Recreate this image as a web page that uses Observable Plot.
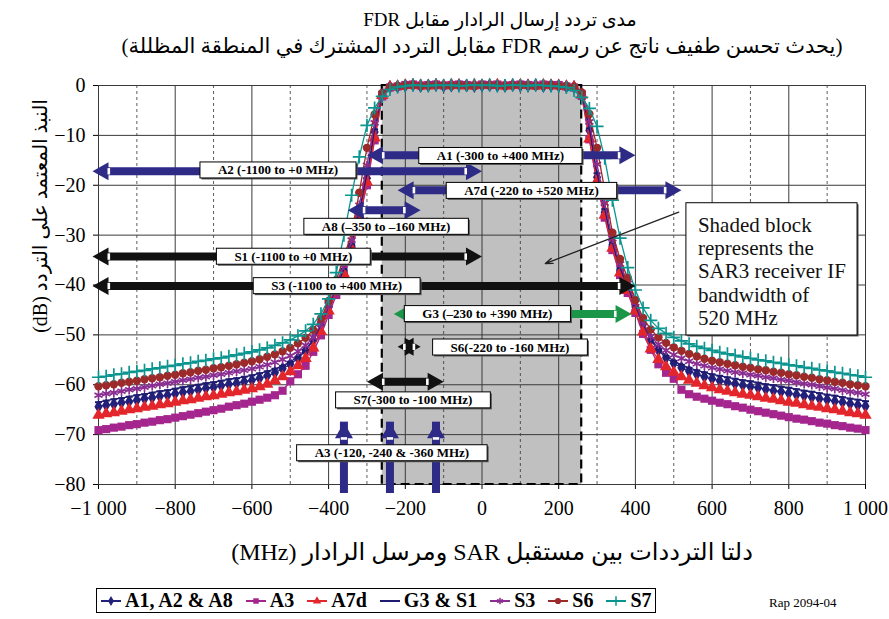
<!DOCTYPE html>
<html lang="ar">
<head>
<meta charset="utf-8">
<title>FDR</title>
<script src="https://cdn.jsdelivr.net/npm/d3@7"></script>
<script src="https://cdn.jsdelivr.net/npm/@observablehq/plot@0.6"></script>
<style>
  html, body { margin: 0; padding: 0; background: #fff; }
  #figure { position: relative; width: 889px; height: 619px; overflow: hidden;
            font-family: "Liberation Serif", "DejaVu Sans", serif; color: #000; }
  .line { position: absolute; white-space: nowrap; transform: translate(-50%, -50%); direction: rtl; }
  #title1 { left: 500px; top: 19px; font-size: 19px; }
  #title2 { left: 482px; top: 46px; font-size: 21px; }
  #chart { position: absolute; left: 0; top: 65px; }
  #ylabel { position: absolute; left: 40px; top: 216px; white-space: nowrap; font-size: 20px;
            transform: translate(-50%, -50%) rotate(-90deg); direction: rtl; }
  #xlabel { left: 492px; top: 552px; font-size: 24px; }
  #legend { position: absolute; left: 96px; top: 588px; width: 560px; height: 25px; box-sizing: border-box;
            border: 1px solid #000; display: flex; align-items: center; padding-left: 3px; gap: 12px;
            font-weight: bold; font-size: 20px; direction: ltr; }
  #legend .item { display: flex; align-items: center; gap: 3px; white-space: nowrap; }
  #ref { position: absolute; left: 769px; top: 595px; font-size: 13px; direction: ltr; }
</style>
</head>
<body>
<div id="figure">
  <div id="title1" class="line" dir="rtl"></div>
  <div id="title2" class="line" dir="rtl"></div>
  <div id="chart"></div>
  <div id="ylabel" dir="rtl"></div>
  <div id="xlabel" class="line" dir="rtl"></div>
  <div id="legend"></div>
  <div id="ref">Rap 2094-04</div>
</div>
<script>
// ---- texts ----
const titleLine1 = "مدى تردد إرسال الرادار مقابل FDR";
const titleLine2 = "(يحدث تحسن طفيف ناتج عن رسم FDR مقابل التردد المشترك في المنطقة المظللة)";
const yTitle = "النبذ المعتمد على التردد (dB)";
const xTitle = "دلتا الترددات بين مستقبل SAR ومرسل الرادار (MHz)";
const noteText = "Shaded block\nrepresents the\nSAR3 receiver IF\nbandwidth of\n520 MHz";

// ---- axes ----
const xTicks = [-1000, -800, -600, -400, -200, 0, 200, 400, 600, 800, 1000];
const xMinorTicks = [-900, -700, -500, -300, -100, 100, 300, 500, 700, 900];
const yTicks = [0, -10, -20, -30, -40, -50, -60, -70, -80];

// ---- FDR curves: frequency offset (MHz) and response (dB) ----
const freqMHz = [
  -1000, -980, -960, -940, -920, -900, -880, -860, -840, -820,
  -800, -780, -760, -740, -720, -700, -680, -660, -640, -620,
  -600, -580, -560, -540, -520, -500, -480, -460, -440, -420,
  -400, -380, -360, -340, -320, -300, -280, -260, -240, -220,
  -200, -180, -160, -140, -120, -100, -80, -60, -40, -20,
  0, 20, 40, 60, 80, 100, 120, 140, 160, 180,
  200, 220, 240, 260, 280, 300, 320, 340, 360, 380,
  400, 420, 440, 460, 480, 500, 520, 540, 560, 580,
  600, 620, 640, 660, 680, 700, 720, 740, 760, 780,
  800, 820, 840, 860, 880, 900, 920, 940, 960, 980,
  1000
];

const seriesNames = ["A1, A2 & A8", "A3", "A7d", "G3 & S1", "S3", "S6", "S7"];

const fdrA1 = [
  -64.4, -64.1, -63.9, -63.6, -63.4, -63.1, -62.8, -62.6, -62.3, -62.1,
  -61.8, -61.5, -61.3, -61.0, -60.7, -60.5, -60.2, -59.9, -59.7, -59.4,
  -59.1, -58.7, -58.2, -57.6, -56.8, -55.9, -54.7, -53.2, -51.1, -48.0,
  -44.5, -40.8, -37.2, -32.2, -25.6, -18.6, -9.3, -1.8, -0.3,
  -0.2, 0.0, 0.1, -0.1, 0.0, 0.1, -0.1, 0.0, 0.1, 0.0, -0.1, 0.0,
  0.1, 0.0, -0.1, 0.1, 0.0, 0.0, 0.1, -0.1, 0.0, 0.0, -0.2,
  -0.3, -1.7, -9.0, -18.4, -25.4, -32.0, -37.0, -40.6, -44.4, -47.8,
  -51.0, -53.1, -54.6, -55.7, -56.6, -57.3, -57.9, -58.4, -58.8, -59.2,
  -59.5, -59.8, -60.1, -60.4, -60.6, -60.9, -61.2, -61.4, -61.7, -62.0,
  -62.2, -62.5, -62.8, -63.0, -63.3, -63.5, -63.8, -64.1, -64.3
];
const fdrA3 = [
  -69.1, -68.9, -68.6, -68.4, -68.1, -67.9, -67.6, -67.4, -67.1, -66.9,
  -66.6, -66.3, -66.0, -65.7, -65.4, -65.1, -64.8, -64.4, -64.1, -63.8,
  -63.4, -63.0, -62.6, -62.1, -61.2, -59.3, -57.9, -56.2, -53.4, -50.1,
  -46.0, -42.0, -38.2, -33.2, -26.6, -20.0, -11.0, -2.2, -0.4,
  -0.2, 0.1, 0.2, 0.0, 0.1, 0.2, 0.0, 0.1, 0.2, 0.1, 0.0, 0.2,
  0.1, 0.2, 0.0, 0.1, 0.2, 0.1, 0.0, 0.2, 0.1, 0.1, -0.2,
  -0.4, -2.1, -10.8, -19.8, -26.5, -33.0, -38.0, -41.6, -45.6, -49.8,
  -53.0, -55.9, -57.6, -58.8, -61.0, -61.9, -62.4, -62.8, -63.2, -63.6,
  -63.9, -64.3, -64.6, -65.0, -65.3, -65.6, -65.9, -66.2, -66.5, -66.8,
  -67.0, -67.3, -67.6, -67.8, -68.1, -68.3, -68.6, -68.8, -69.1
];
const fdrA7d = [
  -66.1, -65.8, -65.6, -65.3, -65.0, -64.8, -64.5, -64.3, -64.0, -63.8,
  -63.5, -63.2, -63.0, -62.7, -62.4, -62.2, -61.9, -61.6, -61.4, -61.1,
  -60.8, -60.4, -59.9, -59.2, -58.4, -57.4, -56.2, -54.7, -52.6, -49.3,
  -45.2, -41.3, -37.8, -32.8, -26.2, -19.4, -10.5, -2.0, -0.3,
  -0.2, 0.0, 0.1, 0.0, -0.1, 0.1, 0.0, 0.1, 0.0, -0.1, 0.1, 0.0,
  0.0, 0.1, -0.1, 0.0, 0.1, 0.0, -0.1, 0.1, 0.0, -0.1, -0.2,
  -0.3, -1.9, -10.7, -19.2, -26.0, -32.6, -37.6, -41.1, -45.2, -49.4,
  -52.8, -54.9, -56.4, -57.5, -58.4, -59.1, -59.7, -60.2, -60.6, -61.0,
  -61.3, -61.6, -61.9, -62.1, -62.4, -62.7, -62.9, -63.2, -63.5, -63.7,
  -64.0, -64.3, -64.5, -64.8, -65.0, -65.3, -65.6, -65.8, -66.1
];
const fdrG3 = [
  -63.5, -63.2, -62.9, -62.7, -62.4, -62.1, -61.9, -61.6, -61.3, -61.1,
  -60.8, -60.5, -60.3, -60.0, -59.7, -59.5, -59.2, -58.9, -58.7, -58.4,
  -58.1, -57.7, -57.3, -56.8, -56.2, -55.4, -54.4, -53.0, -51.0, -48.0,
  -44.3, -40.5, -36.8, -31.8, -25.0, -17.8, -8.8, -1.7, -0.3,
  -0.2, 0.0, 0.0, 0.1, 0.0, -0.1, 0.1, 0.0, 0.0, 0.1, 0.0, -0.1,
  0.0, 0.1, 0.0, 0.0, -0.1, 0.1, 0.0, 0.0, 0.1, 0.0, -0.2,
  -0.3, -1.6, -8.6, -17.6, -24.8, -31.5, -36.6, -40.3, -44.1, -47.8,
  -50.8, -52.8, -54.2, -55.2, -56.0, -56.6, -57.1, -57.5, -57.9, -58.2,
  -58.5, -58.8, -59.1, -59.3, -59.6, -59.9, -60.1, -60.4, -60.6, -60.9,
  -61.2, -61.4, -61.7, -62.0, -62.2, -62.5, -62.8, -63.0, -63.3
];
const fdrS3 = [
  -62.1, -61.8, -61.6, -61.3, -61.0, -60.8, -60.5, -60.2, -59.9, -59.7,
  -59.4, -59.1, -58.9, -58.6, -58.4, -58.1, -57.9, -57.6, -57.3, -57.1,
  -56.8, -56.4, -56.0, -55.5, -54.9, -54.2, -53.3, -52.1, -50.5, -47.8,
  -44.0, -40.0, -36.0, -31.0, -24.0, -16.0, -7.5, -1.6, -0.3,
  -0.2, 0.1, 0.0, 0.0, 0.1, 0.0, -0.1, 0.1, 0.0, 0.1, 0.0, 0.0,
  -0.1, 0.1, 0.0, 0.1, 0.0, -0.1, 0.0, 0.1, 0.0, 0.0, -0.2,
  -0.3, -1.5, -7.3, -15.8, -23.6, -30.7, -35.8, -39.7, -43.6, -47.5,
  -50.3, -51.9, -53.1, -54.0, -54.7, -55.3, -55.8, -56.2, -56.6, -56.9,
  -57.2, -57.5, -57.7, -58.0, -58.2, -58.5, -58.7, -59.0, -59.2, -59.5,
  -59.8, -60.0, -60.3, -60.6, -60.8, -61.1, -61.4, -61.6, -61.9
];
const fdrS6 = [
  -60.3, -60.1, -59.9, -59.6, -59.4, -59.2, -58.9, -58.7, -58.5, -58.2,
  -58.0, -57.7, -57.5, -57.2, -57.0, -56.7, -56.5, -56.2, -55.9, -55.6,
  -55.3, -54.9, -54.4, -53.9, -53.3, -52.6, -51.7, -50.6, -49.0, -46.7,
  -43.2, -39.0, -34.5, -29.5, -21.5, -12.5, -5.8, -1.5, -0.3,
  -0.1, 0.0, 0.1, -0.1, 0.0, 0.1, 0.0, -0.1, 0.1, 0.0, -0.1, 0.1,
  0.0, 0.1, -0.1, 0.0, 0.1, 0.0, -0.1, 0.0, 0.1, -0.1, -0.1,
  -0.3, -1.4, -5.7, -12.5, -21.0, -29.5, -34.8, -38.6, -43.0, -46.6,
  -48.9, -50.5, -51.6, -52.5, -53.2, -53.8, -54.3, -54.8, -55.2, -55.5,
  -55.8, -56.1, -56.4, -56.6, -56.9, -57.1, -57.4, -57.6, -57.9, -58.1,
  -58.4, -58.6, -58.9, -59.1, -59.4, -59.6, -59.9, -60.1, -60.3
];
const fdrS7 = [
  -58.5, -58.3, -58.0, -57.8, -57.5, -57.3, -57.1, -56.8, -56.6, -56.3,
  -56.1, -55.8, -55.6, -55.3, -55.1, -54.8, -54.6, -54.3, -54.0, -53.7,
  -53.4, -53.0, -52.6, -52.1, -51.6, -51.0, -50.2, -49.2, -47.9, -45.8,
  -42.8, -37.5, -30.0, -22.0, -14.3, -8.0, -4.5, -2.2, -0.8,
  -0.3, -0.1, 0.1, 0.0, -0.1, 0.1, 0.0, 0.1, -0.1, 0.0, 0.1, 0.0,
  0.1, -0.1, 0.0, 0.1, 0.0, -0.1, 0.1, 0.0, -0.1, -0.2, -0.4,
  -1.0, -2.4, -4.6, -8.2, -14.6, -23.0, -30.6, -36.5, -41.0, -44.6,
  -47.1, -48.7, -49.7, -50.5, -51.2, -51.8, -52.3, -52.7, -53.1, -53.5,
  -53.8, -54.1, -54.4, -54.7, -55.0, -55.2, -55.5, -55.7, -56.0, -56.2,
  -56.5, -56.7, -57.0, -57.2, -57.5, -57.7, -58.0, -58.2, -58.5
];
const seriesValues = [fdrA1, fdrA3, fdrA7d, fdrG3, fdrS3, fdrS6, fdrS7];

// ---- SAR3 receiver IF bandwidth (shaded block), MHz ----
const ifBandwidthMHz = 520;

// ---- radar tuning ranges ----
const rangeNames = ["A2", "A1", "A7d", "A8", "S1", "S3", "G3", "S6", "S7"];
const rangeFrom = [-1100, -300, -220, -350, -1100, -1100, -230, -220, -300];
const rangeTo = [0, 400, 520, -160, 0, 400, 390, -160, -100];
const rangeLabels = [
  "A2 (-1100 to +0 MHz)", "A1 (-300 to +400 MHz)", "A7d (-220 to +520 MHz)",
  "A8 (\u2013350 to \u2013160 MHz)", "S1 (-1100 to +0 MHz)", "S3 (-1100 to +400 MHz)",
  "G3 (\u2013230 to +390 MHz)", "S6(-220 to -160 MHz)", "S7(-300 to -100 MHz)"
];
// placement on the chart: the dB row of each arrow and the centre of its caption
const rangeRowDb = [-17.2, -14.0, -21.0, -25.0, -34.3, -40.2, -45.8, -52.4, -59.4];
const captionMHz = [-532, 48, 129, -250, -492, -379, 14, 73, -180];
const captionDb = [-17.0, -14.1, -21.1, -28.3, -34.3, -40.2, -45.8, -52.5, -63.1];

// A3: three fixed offsets, drawn as upward arrows
const a3Offsets = [-120, -240, -360];
const a3Label = "A3 (-120, -240 & -360 MHz)";
const a3TipDb = -67.5;
const a3CaptionMHz = -235, a3CaptionDb = -73.7;

// note placement and its pointer
const notePos = {x: 563, y: -26.0};
const notePointer = {x1: 513, y1: -25.4, x2: 165, y2: -35.7};

// ---- styling ----
const NAVY = "#2e2b86", GREEN = "#1b9547", BLACK = "#111111";
const familyColor = {A: NAVY, S: BLACK, G: GREEN};
const dashSymbol = {draw(c) { c.rect(-3.5, -1, 7, 2); }};
const seriesStyle = [
  {color: "#22207a", symbol: "diamond", r: 4.3, filled: true},
  {color: "#a5258f", symbol: "square", r: 4.6, filled: true},
  {color: "#e3262b", symbol: "triangle", r: 4.6, filled: true},
  {color: "#1f1b70", symbol: dashSymbol, r: 4, filled: true},
  {color: "#8a2e92", symbol: "asterisk", r: 4.4, filled: false},
  {color: "#9c2a2a", symbol: "circle", r: 4.2, filled: true},
  {color: "#0b9590", symbol: "plus", r: 4.3, filled: false}
];

// arrow heads: tip at the anchor point
const HL = 16, HH = 18;
const headLeft = {draw(c) { c.moveTo(0, 0); c.lineTo(HL, -HH / 2); c.lineTo(HL, HH / 2); c.closePath(); }};
const headRight = {draw(c) { c.moveTo(0, 0); c.lineTo(-HL, -HH / 2); c.lineTo(-HL, HH / 2); c.closePath(); }};
const headUp = {draw(c) { c.moveTo(0, 0); c.lineTo(-HH / 2, HL); c.lineTo(HH / 2, HL); c.closePath(); }};
const notchLeft = {draw(c) { c.rect(HL - 1, -3.2, 2.6, 6.4); }};
const notchRight = {draw(c) { c.rect(-HL - 1.6, -3.2, 2.6, 6.4); }};
const notchUp = {draw(c) { c.rect(-3.2, HL - 1, 6.4, 2.6); }};

const xMin = xTicks[0], xMax = xTicks[xTicks.length - 1];
const yMin = yTicks[yTicks.length - 1], yMax = yTicks[0];

const fmt = (d) => {
  const a = Math.abs(d);
  const s = a >= 1000 ? Math.floor(a / 1000) + "\u00a0" + String(a % 1000).padStart(3, "0") : String(a);
  return (d < 0 ? "\u2212" : "") + s;
};

// ---- tables ----
const band = [{lo: -ifBandwidthMHz / 2, hi: ifBandwidthMHz / 2}];
const ranges = rangeNames.map((name, i) => ({
  name, from: rangeFrom[i], to: rangeTo[i], row: rangeRowDb[i],
  color: familyColor[name[0]]
}));
const captions = rangeLabels.map((label, i) => ({label, x: captionMHz[i], y: captionDb[i]}))
  .concat([{label: a3Label, x: a3CaptionMHz, y: a3CaptionDb}]);

const curveMarks = seriesNames.flatMap((name, k) => {
  const rows = freqMHz.map((f, i) => ({f, db: seriesValues[k][i]}));
  const st = seriesStyle[k];
  return [
    Plot.line(rows, {x: "f", y: "db", stroke: st.color, strokeWidth: 1.3}),
    Plot.dot(rows, {
      x: "f", y: "db", symbol: st.symbol, r: st.r,
      fill: st.filled ? st.color : "none",
      stroke: st.filled ? "none" : st.color,
      strokeWidth: st.filled ? 0 : 1.7
    })
  ];
});

const inside = ranges.filter((d) => d.from >= xMin);
const outside = ranges.filter((d) => d.from < xMin);

const svg = Plot.plot({
  width: 889,
  height: 454,
  marginTop: 20,
  marginBottom: 35,
  marginLeft: 98,
  marginRight: 24,
  style: {fontFamily: "Liberation Serif, DejaVu Serif, serif", fontSize: "20px", color: "#000", background: "transparent"},
  color: {type: "identity"},
  x: {domain: [xMin, xMax], ticks: xTicks, tickFormat: fmt, tickSize: 5, tickPadding: 11, label: null},
  y: {domain: [yMin, yMax], ticks: yTicks, tickFormat: fmt, tickSize: 5, tickPadding: 8, label: null},
  marks: [
    Plot.rect(band, {x1: "lo", x2: "hi", y1: yMin, y2: yMax, fill: "#c0c0c0"}),
    Plot.ruleX(xMinorTicks, {stroke: "#333", strokeWidth: 0.8, strokeDasharray: "3,3"}),
    Plot.ruleX(xTicks, {stroke: "#3a3a3a", strokeWidth: 1}),
    Plot.ruleY(yTicks, {stroke: "#3a3a3a", strokeWidth: 1}),
    Plot.rect(band, {x1: "lo", x2: "hi", y1: yMin, y2: yMax, fill: "none", stroke: "#000", strokeWidth: 2.2, strokeDasharray: "9,5"}),
    ...curveMarks,
    // range arrows
    Plot.ruleY(ranges, {y: "row", x1: (d) => Math.max(d.from, xMin), x2: (d) => Math.min(d.to, xMax), stroke: "color", strokeWidth: 8, insetLeft: 9, insetRight: 9}),
    Plot.dot(inside, {x: "from", y: "row", symbol: headLeft, r: 5, fill: "color", stroke: "none"}),
    Plot.dot(outside, {x: () => xMin, y: "row", dx: -6, symbol: headLeft, r: 5, fill: "color", stroke: "none"}),
    Plot.dot(ranges, {x: "to", y: "row", symbol: headRight, r: 5, fill: "color", stroke: "none"}),
    Plot.dot(inside, {x: "from", y: "row", symbol: notchLeft, r: 5, fill: "#fff", stroke: "none"}),
    Plot.dot(outside, {x: () => xMin, y: "row", dx: -6, symbol: notchLeft, r: 5, fill: "#fff", stroke: "none"}),
    Plot.dot(ranges, {x: "to", y: "row", symbol: notchRight, r: 5, fill: "#fff", stroke: "none"}),
    // A3 upward arrows
    Plot.ruleX(a3Offsets, {x: (d) => d, y1: yMin, y2: a3TipDb, stroke: NAVY, strokeWidth: 8, insetTop: 9}),
    Plot.dot(a3Offsets, {x: (d) => d, y: () => a3TipDb, symbol: headUp, r: 5, fill: NAVY, stroke: "none"}),
    Plot.dot(a3Offsets, {x: (d) => d, y: () => a3TipDb, symbol: notchUp, r: 5, fill: "#fff", stroke: "none"}),
    // captions
    Plot.text(captions, {x: "x", y: "y", text: "label", fontSize: 13, fontWeight: "bold", fill: "#000", ariaDescription: "range-caption"}),
    // note and pointer
    Plot.arrow([notePointer], {x1: "x1", y1: "y1", x2: "x2", y2: "y2", stroke: "#222", strokeWidth: 1.3, headLength: 9, headAngle: 40}),
    Plot.text([noteText], {x: () => notePos.x, y: () => notePos.y, text: (d) => d, textAnchor: "start", lineAnchor: "top", fontSize: 21, lineHeight: 1.11, fill: "#111", ariaDescription: "note"})
  ]
});

document.getElementById("chart").appendChild(svg);

// framed captions: white box with a thin border and a small shadow
const NS = "http://www.w3.org/2000/svg";
function textsOf(desc, size) {
  let found = Array.from(svg.querySelectorAll(`g[aria-description="${desc}"] text`));
  if (!found.length) {
    found = Array.from(svg.querySelectorAll(`g[font-size="${size}"] text`));
  }
  return found;
}
function frameTexts(desc, size, pad) {
  textsOf(desc, size).forEach((t) => {
    const b = t.getBBox();
    const tr = t.getAttribute("transform");
    const add = (off, fill, stroke) => {
      const r = document.createElementNS(NS, "rect");
      r.setAttribute("x", b.x - pad[3] + off);
      r.setAttribute("y", b.y - pad[0] + off);
      r.setAttribute("width", b.width + pad[1] + pad[3]);
      r.setAttribute("height", b.height + pad[0] + pad[2]);
      r.setAttribute("fill", fill);
      r.setAttribute("stroke", stroke);
      r.setAttribute("stroke-width", 1);
      if (tr) r.setAttribute("transform", tr);
      t.parentNode.insertBefore(r, t);
    };
    add(1.5, "#555", "none");
    add(0, "#fff", "#000");
  });
}
frameTexts("range-caption", 13, [0.5, 18, 0.5, 18]);
frameTexts("note", 21, [10, 11, 5, 12]);

// titles and axis names
document.getElementById("title1").textContent = titleLine1;
document.getElementById("title2").textContent = titleLine2;
document.getElementById("xlabel").textContent = xTitle;
document.getElementById("ylabel").textContent = yTitle;

// legend
const legend = d3.select("#legend");
const d3Sym = {diamond: d3.symbolDiamond, square: d3.symbolSquare, triangle: d3.symbolTriangle,
  asterisk: d3.symbolAsterisk, circle: d3.symbolCircle, plus: d3.symbolPlus};
seriesNames.forEach((name, k) => {
  const st = seriesStyle[k];
  const item = legend.append("span").attr("class", "item");
  const s = item.append("svg").attr("width", 22).attr("height", 12);
  s.append("line").attr("x1", 1).attr("x2", 21).attr("y1", 6).attr("y2", 6)
    .attr("stroke", st.color).attr("stroke-width", 2);
  const type = typeof st.symbol === "string" ? d3Sym[st.symbol] : st.symbol;
  s.append("path").attr("transform", "translate(11,6)")
    .attr("d", d3.symbol(type, 30)())
    .attr("fill", st.filled ? st.color : "none")
    .attr("stroke", st.filled ? "none" : st.color)
    .attr("stroke-width", 1.5);
  item.append("span").text(name);
});
</script>
</body>
</html>
